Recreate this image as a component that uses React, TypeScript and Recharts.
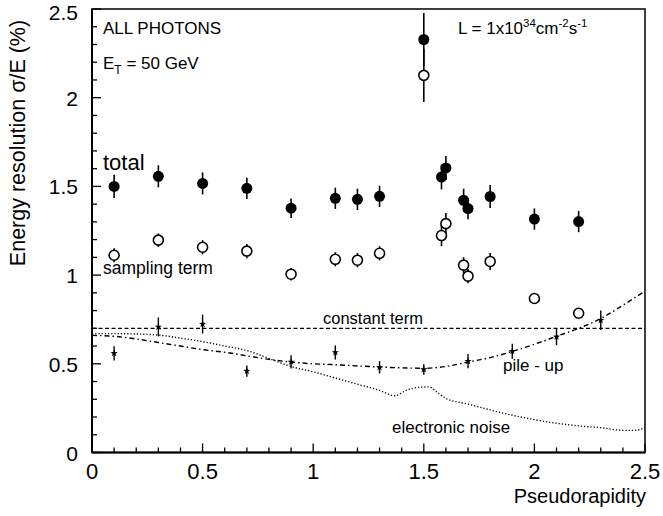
import React from 'react';
import {
  ComposedChart,
  XAxis,
  YAxis,
  Scatter,
  Line,
  ErrorBar,
  ReferenceLine,
  ReferenceArea,
} from 'recharts';

// Calorimeter energy resolution vs pseudorapidity (ET = 50 GeV photons)
const TOTAL_ETA = [0.1, 0.3, 0.5, 0.7, 0.9, 1.1, 1.2, 1.3, 1.5, 1.58, 1.6, 1.68, 1.7, 1.8, 2.0, 2.2];
const TOTAL_RES = [1.5, 1.557, 1.517, 1.489, 1.377, 1.433, 1.427, 1.444, 2.328, 1.553, 1.604, 1.422, 1.375, 1.443, 1.316, 1.302];
const TOTAL_ERR = [0.065, 0.062, 0.062, 0.06, 0.055, 0.06, 0.06, 0.06, 0.15, 0.07, 0.068, 0.065, 0.06, 0.065, 0.06, 0.06];

const SAMPLING_ETA = [0.1, 0.3, 0.5, 0.7, 0.9, 1.1, 1.2, 1.3, 1.5, 1.58, 1.6, 1.68, 1.7, 1.8, 2.0, 2.2];
const SAMPLING_RES = [1.112, 1.197, 1.157, 1.135, 1.005, 1.089, 1.084, 1.123, 2.126, 1.223, 1.29, 1.056, 0.994, 1.077, 0.868, 0.785];
const SAMPLING_ERR = [0.04, 0.038, 0.04, 0.04, 0.035, 0.04, 0.04, 0.04, 0.15, 0.06, 0.06, 0.045, 0.04, 0.048, 0.02, 0.02];

const PILEUP_ETA = [0.1, 0.3, 0.5, 0.7, 0.9, 1.1, 1.3, 1.5, 1.7, 1.9, 2.1, 2.3];
const PILEUP_RES = [0.559, 0.708, 0.724, 0.459, 0.511, 0.564, 0.48, 0.468, 0.515, 0.571, 0.652, 0.746];
const PILEUP_ERR = [0.04, 0.053, 0.053, 0.032, 0.037, 0.04, 0.035, 0.03, 0.04, 0.042, 0.047, 0.055];

// pile-up parametrisation curve
const PILEUP_CURVE_ETA = [0, 0.1, 0.2, 0.3, 0.4, 0.5, 0.6, 0.7, 0.8, 0.9, 1.0, 1.1, 1.2, 1.3, 1.4, 1.5, 1.6, 1.7, 1.8, 1.9, 2.0, 2.1, 2.2, 2.3, 2.4, 2.5];
const PILEUP_CURVE_RES = [0.66, 0.655, 0.64, 0.62, 0.6, 0.58, 0.565, 0.545, 0.525, 0.51, 0.5, 0.495, 0.488, 0.482, 0.477, 0.475, 0.485, 0.51, 0.535, 0.57, 0.61, 0.655, 0.7, 0.755, 0.83, 0.91];

// electronic noise contribution
const NOISE_ETA = [0, 0.1, 0.2, 0.3, 0.4, 0.5, 0.6, 0.7, 0.8, 0.9, 1.0, 1.1, 1.2, 1.3, 1.37, 1.42, 1.48, 1.52, 1.57, 1.6, 1.7, 1.8, 1.9, 2.0, 2.1, 2.2, 2.3, 2.4, 2.45, 2.5];
const NOISE_RES = [0.67, 0.67, 0.668, 0.662, 0.645, 0.625, 0.6, 0.575, 0.53, 0.485, 0.455, 0.42, 0.385, 0.35, 0.32, 0.35, 0.368, 0.37, 0.33, 0.305, 0.273, 0.24, 0.21, 0.185, 0.165, 0.15, 0.14, 0.125, 0.125, 0.14];

const CONSTANT_TERM = 0.7;

const X_TICKS = [0, 0.1, 0.2, 0.3, 0.4, 0.5, 0.6, 0.7, 0.8, 0.9, 1, 1.1, 1.2, 1.3, 1.4, 1.5, 1.6, 1.7, 1.8, 1.9, 2, 2.1, 2.2, 2.3, 2.4, 2.5];
const Y_TICKS = [0, 0.1, 0.2, 0.3, 0.4, 0.5, 0.6, 0.7, 0.8, 0.9, 1, 1.1, 1.2, 1.3, 1.4, 1.5, 1.6, 1.7, 1.8, 1.9, 2, 2.1, 2.2, 2.3, 2.4, 2.5];

const FONT = '"Liberation Sans", Arial, Helvetica, sans-serif';

const zipPoints = (xs: number[], ys: number[], errs?: number[]) =>
  xs.map((x, i) => ({ x, y: ys[i], err: errs ? errs[i] : 0 }));

const totalData = zipPoints(TOTAL_ETA, TOTAL_RES, TOTAL_ERR);
const samplingData = zipPoints(SAMPLING_ETA, SAMPLING_RES, SAMPLING_ERR);
const pileupData = zipPoints(PILEUP_ETA, PILEUP_RES, PILEUP_ERR);
const pileupCurve = zipPoints(PILEUP_CURVE_ETA, PILEUP_CURVE_RES);
const noiseCurve = zipPoints(NOISE_ETA, NOISE_RES);

const isMajor = (v: number) => Math.abs(v * 2 - Math.round(v * 2)) < 1e-6;

const XTick = (props: any) => {
  const { x, y, payload } = props;
  const major = isMajor(payload.value);
  return (
    <g>
      <line x1={x} y1={y} x2={x} y2={y - (major ? 9 : 5)} stroke="#000" strokeWidth={1.3} />
      {major && (
        <text x={x} y={y + 26.5} textAnchor="middle" fontSize={22} fontFamily={FONT} fill="#000">
          {String(payload.value)}
        </text>
      )}
    </g>
  );
};

const YTick = (props: any) => {
  const { x, y, payload } = props;
  const major = isMajor(payload.value);
  // keep the topmost label inside the page
  const baseline = Math.max(y + 8, 19.5);
  return (
    <g>
      <line x1={x} y1={y} x2={x + (major ? 9 : 5)} y2={y} stroke="#000" strokeWidth={1.3} />
      {major && (
        <text x={x - 14} y={baseline} textAnchor="end" fontSize={21} fontFamily={FONT} fill="#000">
          {String(payload.value)}
        </text>
      )}
    </g>
  );
};

const FilledDot = (props: any) => <circle cx={props.cx} cy={props.cy} r={5.5} fill="#000" />;
const OpenDot = (props: any) => (
  <circle cx={props.cx} cy={props.cy} r={5} fill="#fff" stroke="#000" strokeWidth={1.6} />
);
const StarDot = (props: any) => {
  const { cx, cy } = props;
  const pts: string[] = [];
  for (let k = 0; k < 10; k++) {
    const r = k % 2 === 0 ? 3.8 : 1.5;
    const a = -Math.PI / 2 + (k * Math.PI) / 5;
    pts.push(`${cx + r * Math.cos(a)},${cy + r * Math.sin(a)}`);
  }
  return <polygon points={pts.join(' ')} fill="#000" />;
};

export default function App() {
  return (
    <div style={{ position: 'absolute', left: 0, top: 0, width: 663, height: 516, background: '#fff' }}>
      <ComposedChart width={663} height={516} margin={{ top: 9, right: 18, bottom: 0, left: 0 }}>
        <XAxis
          type="number"
          dataKey="x"
          domain={[0, 2.5]}
          ticks={X_TICKS}
          interval={0}
          height={63.5}
          tickSize={0}
          tickMargin={0}
          tickLine={false}
          tick={<XTick />}
          axisLine={{ stroke: '#000', strokeWidth: 2 }}
          allowDataOverflow
        />
        <YAxis
          type="number"
          dataKey="y"
          domain={[0, 2.5]}
          ticks={Y_TICKS}
          interval={0}
          width={92}
          tickSize={0}
          tickMargin={0}
          tickLine={false}
          tick={<YTick />}
          axisLine={{ stroke: '#000', strokeWidth: 2 }}
          allowDataOverflow
        />
        <ReferenceArea x1={0} x2={2.5} y1={0} y2={2.5} fill="none" stroke="#000" strokeWidth={1.5} />
        <ReferenceLine y={CONSTANT_TERM} stroke="#000" strokeWidth={1.3} strokeDasharray="4 2.5" />
        <Line
          data={noiseCurve}
          dataKey="y"
          type="monotone"
          stroke="#000"
          strokeWidth={1.4}
          strokeDasharray="1.2 2"
          dot={false}
          isAnimationActive={false}
        />
        <Line
          data={pileupCurve}
          dataKey="y"
          type="monotone"
          stroke="#000"
          strokeWidth={1.4}
          strokeDasharray="5 3 1.5 3"
          dot={false}
          isAnimationActive={false}
        />
        <Scatter data={pileupData} dataKey="y" shape={<StarDot />} isAnimationActive={false}>
          <ErrorBar dataKey="err" direction="y" width={0} stroke="#000" strokeWidth={1.4} />
        </Scatter>
        <Scatter data={totalData} dataKey="y" shape={<FilledDot />} isAnimationActive={false}>
          <ErrorBar dataKey="err" direction="y" width={0} stroke="#000" strokeWidth={1.6} />
        </Scatter>
        <Scatter data={samplingData} dataKey="y" shape={<OpenDot />} isAnimationActive={false}>
          <ErrorBar dataKey="err" direction="y" width={0} stroke="#000" strokeWidth={1.6} />
        </Scatter>
      </ComposedChart>

      <svg
        width={663}
        height={516}
        style={{ position: 'absolute', left: 0, top: 0, pointerEvents: 'none' }}
        fontFamily={FONT}
        fill="#000"
      >
        <text x={103} y={34} fontSize={17}>ALL PHOTONS</text>
        <text x={103} y={68.5} fontSize={17}>
          E<tspan fontSize={12} dy={5}>T</tspan>
          <tspan dy={-5}> = 50 GeV</tspan>
        </text>
        <text x={458} y={33.5} fontSize={17}>
          L = 1x10<tspan fontSize={11.5} dy={-7}>34</tspan>
          <tspan dy={7}>cm</tspan>
          <tspan fontSize={11.5} dy={-7}>-2</tspan>
          <tspan dy={7}>s</tspan>
          <tspan fontSize={11.5} dy={-7}>-1</tspan>
        </text>
        <text x={103} y={170} fontSize={22}>total</text>
        <text x={103} y={273.5} fontSize={17.5}>sampling term</text>
        <text x={323} y={324} fontSize={16.5}>constant term</text>
        <text x={503} y={371} fontSize={17}>pile - up</text>
        <text x={392} y={432.5} fontSize={17}>electronic noise</text>
        <text x={646} y={503} fontSize={20} textAnchor="end">Pseudorapidity</text>
        <text transform="translate(25,143) rotate(-90)" fontSize={21.5} textAnchor="middle">
          Energy resolution σ/E (%)
        </text>
      </svg>
    </div>
  );
}
